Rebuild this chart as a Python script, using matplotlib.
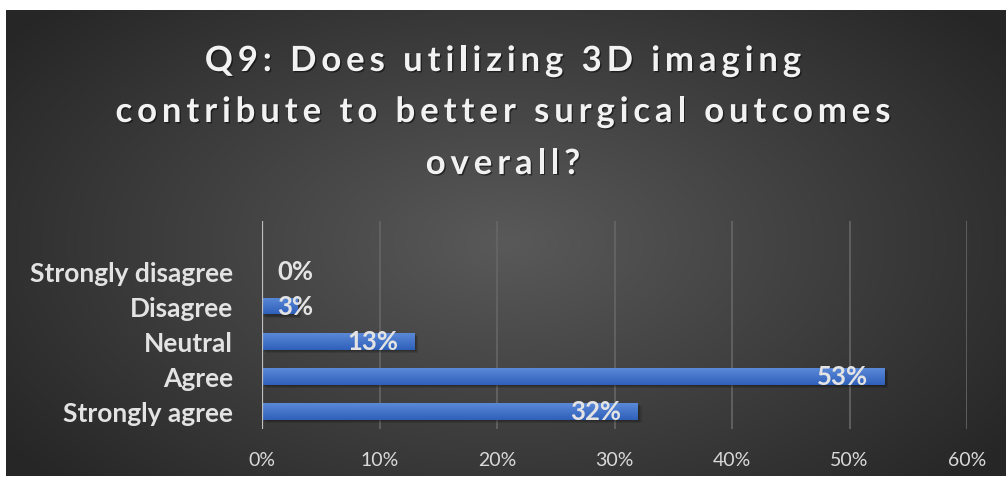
import numpy as np
import matplotlib
matplotlib.use("Agg")
import matplotlib.pyplot as plt
import matplotlib.patheffects as pe
from matplotlib.font_manager import FontProperties

categories = ["Strongly agree", "Agree", "Neutral", "Disagree", "Strongly disagree"]
values = [32, 53, 13, 3, 0]
ticks = [0, 10, 20, 30, 40, 50, 60]
tick_labels = ["0%", "10%", "20%", "30%", "40%", "50%", "60%"]
title_lines = ["Q9: Does utilizing 3D imaging",
               "contribute to better surgical outcomes",
               "overall?"]

W, H = 1006, 481
fig = plt.figure(figsize=(W / 100, H / 100), dpi=100)
fig.patch.set_facecolor("white")

# dark radial background panel
bg = fig.add_axes([6 / W, 4 / H, 1000 / W, 466 / H])
bg.set_axis_off()
yy, xx = np.mgrid[0:1:300j, 0:1:600j]
r = np.sqrt(((xx - 0.5) / 0.62) ** 2 + ((yy - 0.5) / 0.75) ** 2)
r = np.clip(r, 0, 1)
shade = 0.35 - (0.35 - 0.15) * r
bg.imshow(np.dstack([shade, shade, shade]), aspect="auto", extent=[0, 1, 0, 1])
bg.set_xlim(0, 1)
bg.set_ylim(0, 1)

# title with letter spacing, drawn char by char
renderer = fig.canvas.get_renderer()
tprop = FontProperties(family="Lato", weight="bold", size=25)
baselines = [72, 123, 175]
shadow = [pe.withSimplePatchShadow(offset=(1, -1), shadow_rgbFace="black", alpha=0.5)]
target_w = 775  # width of the longest line in px


def char_widths(line):
    out = []
    for ch in line:
        if ch == " ":
            w = renderer.get_text_width_height_descent("a a", tprop, ismath=False)[0] - \
                renderer.get_text_width_height_descent("aa", tprop, ismath=False)[0]
        else:
            w = renderer.get_text_width_height_descent(ch, tprop, ismath=False)[0]
        out.append(w)
    return np.array(out)


w2 = char_widths(title_lines[1])
track = (target_w - w2.sum()) / (len(title_lines[1]) - 1)
for line, base in zip(title_lines, baselines):
    widths = char_widths(line)
    total = widths.sum() + track * (len(line) - 1)
    x = W / 2 - total / 2
    for ch, w in zip(line, widths):
        if ch != " ":
            fig.text(x / W, 1 - base / H, ch, ha="left", va="baseline",
                     fontproperties=tprop, color="#f2f2f2", path_effects=shadow)
        x += w + track

ax = fig.add_axes([262 / W, 1 - 430 / H, 705 / W, 208 / H])
ax.patch.set_alpha(0)
y = np.arange(len(categories))

# soft shadows under bars
for k, a in enumerate([0.12, 0.12, 0.12]):
    ax.barh(y - 0.04 - 0.03 * k, values, height=0.48, left=0.1 + 0.1 * k,
            color="black", alpha=a, zorder=2, linewidth=0)
bars = ax.barh(y, values, height=0.48, color="#4472c4", zorder=3)
grad = np.linspace(0, 1, 50).reshape(-1, 1)
cmap = matplotlib.colors.LinearSegmentedColormap.from_list("bb", ["#5b89d8", "#2f60ba"])
for b in bars:
    if b.get_width() <= 0:
        continue
    x0, y0 = b.get_x(), b.get_y()
    im = ax.imshow(grad, cmap=cmap, aspect="auto",
                   extent=[x0, x0 + b.get_width(), y0, y0 + b.get_height()],
                   origin="upper", zorder=3.5)
    im.set_clip_path(b)

for yi, v in zip(y, values):
    if v < 5:
        ax.annotate(f"{v}%", (0, yi), xytext=(11, 0), textcoords="offset points",
                    ha="left", va="center", fontsize=18.5, fontweight="bold",
                    family="Lato", color="#e3e3e3", zorder=5)
    else:
        ax.annotate(f"{v}%", (v, yi), xytext=(-12, 0), textcoords="offset points",
                    ha="right", va="center", fontsize=18.5, fontweight="bold",
                    family="Lato", color="#e3e3e3", zorder=5)

ax.set_xlim(0, 60)
ax.set_ylim(-0.51, 5.43)
ax.set_xticks(ticks)
ax.set_xticklabels(tick_labels, fontsize=14, family="Lato", color="#d9d9d9")
ax.set_yticks(y)
ax.set_yticklabels(categories, fontsize=19, fontweight="bold", family="Lato", color="#e3e3e3")
ax.tick_params(axis="both", length=0)
ax.tick_params(axis="x", pad=16)
ax.tick_params(axis="y", pad=21)
for t in ax.get_xticks()[1:]:
    ax.axvline(t, color="#666666", lw=1.2, zorder=1)
ax.axvline(0, color="#bfbfbf", lw=1.6, zorder=4)
for s in ax.spines.values():
    s.set_visible(False)

fig.savefig("out.png", dpi=100, facecolor="white")
